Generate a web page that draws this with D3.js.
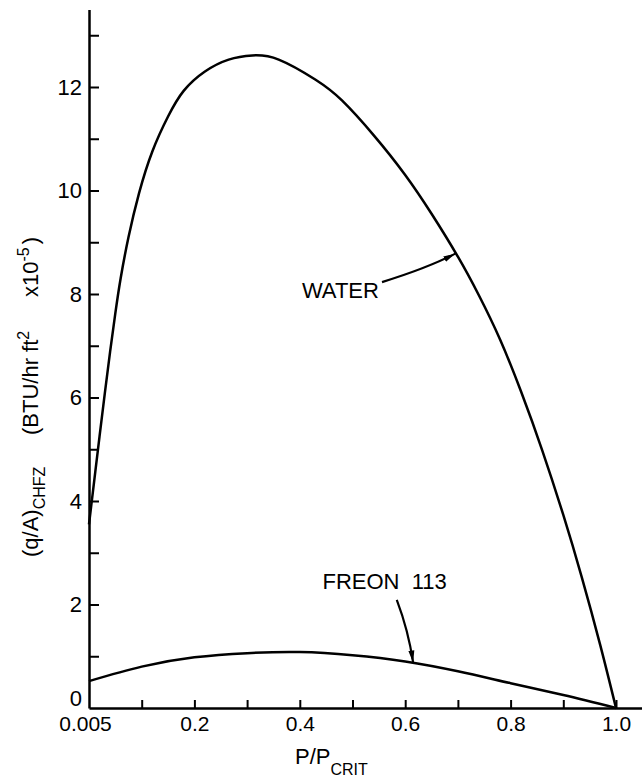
<!DOCTYPE html>
<html>
<head>
<meta charset="utf-8">
<script src="https://cdn.jsdelivr.net/npm/d3@7"></script>
<style>
body{margin:0;background:#fff;}
text{font-family:"Liberation Sans",Arial,sans-serif;fill:#000;}
</style>
</head>
<body>
<div id="chart"></div>
<script>
// values (P/Pcrit, q/A x10^-5)
var waterP=[0,0.01,0.02,0.03,0.04,0.05,0.06,0.075,0.095,0.12,0.15,0.18,0.22,0.265,0.31,0.36,0.43,0.48,0.54,0.6,0.65,0.7,0.74,0.78,0.82,0.86,0.9,0.935,0.97,1.0];
var waterQ=[3.55,4.4,5.25,6.08,6.88,7.63,8.3,9.1,9.95,10.75,11.43,11.93,12.3,12.53,12.61,12.53,12.14,11.74,11.07,10.3,9.55,8.72,7.97,7.12,6.11,4.98,3.73,2.53,1.22,0];
var freonP=[0,0.1,0.2,0.3,0.4,0.5,0.6,0.7,0.8,0.9,1.0];
var freonQ=[0.52,0.8,0.98,1.06,1.08,1.02,0.9,0.71,0.48,0.25,0.0];

var xTickValues=[0,0.1,0.2,0.3,0.4,0.5,0.6,0.7,0.8,0.9,1.0];
var xTickText=["0.005","","0.2","","0.4","","0.6","","0.8","","1.0"];
var yTickValues=[0,1,2,3,4,5,6,7,8,9,10,11,12,13];
var yTickText=["0","","2","","4","","6","","8","","10","","12",""];

var w=642, h=777;
var svg=d3.select("#chart").append("svg").attr("width",w).attr("height",h);

//Scales
var xScale=d3.scaleLinear().domain([0,1.05]).range([89,89+1.05*527]);
var yScale=d3.scaleLinear().domain([0,13.5]).range([708,708-13.5*51.75]);

//x-axis
var xAxis=d3.axisBottom(xScale)
            .tickValues(xTickValues)
            .tickSizeInner(-8)
            .tickSizeOuter(0)
            .tickPadding(8)
            .tickFormat(function(d,i){return xTickText[i];});
var gx=svg.append("g").attr("transform","translate(0,"+yScale(0)+")").call(xAxis);
gx.select(".domain").attr("stroke","#000").attr("stroke-width",2.5);
gx.selectAll(".tick line").attr("stroke","#000").attr("stroke-width",2)
  .attr("display",function(d){return d===0?"none":null;});
gx.selectAll(".tick text").attr("font-size",21).attr("font-family","Liberation Sans")
  .attr("dx",function(d){return d===0?-4:0;});

//y-axis
var yAxis=d3.axisLeft(yScale)
            .tickValues(yTickValues)
            .tickSizeInner(-10)
            .tickSizeOuter(0)
            .tickPadding(7)
            .tickFormat(function(d,i){return yTickText[i];});
var gy=svg.append("g").attr("transform","translate("+xScale(0)+",0)").call(yAxis);
gy.select(".domain").attr("stroke","#000").attr("stroke-width",2.5);
gy.selectAll(".tick line").attr("stroke","#000").attr("stroke-width",2)
  .attr("display",function(d){return d===0?"none":null;});
gy.selectAll(".tick text").attr("font-size",22).attr("font-family","Liberation Sans")
  .attr("dy",function(d){return d===0?"-0.12em":"0.32em";});

//Axis titles
var yt=svg.append("text")
          .attr("transform","translate(38,557)rotate(-90)")
          .attr("text-anchor","start")
          .attr("font-size",22);
yt.append("tspan").attr("x",0).text("(q/A)");
yt.append("tspan").attr("font-size",16).attr("dy",7).text("CHFZ");
yt.append("tspan").attr("x",122).attr("dy",-7).text("(BTU/hr ft");
yt.append("tspan").attr("font-size",16).attr("dy",-9).text("2");
yt.append("tspan").attr("x",260).attr("dy",9).text("x10");
yt.append("tspan").attr("font-size",16).attr("dy",-9).text("-5");
yt.append("tspan").attr("dx",3).attr("dy",9).text(")");

var xt=svg.append("text").attr("x",295).attr("y",764).attr("font-size",22);
xt.append("tspan").text("P/P");
xt.append("tspan").attr("font-size",16).attr("dy",11).text("CRIT");

//Curves
var line=d3.line()
           .x(function(d){return xScale(d[0]);})
           .y(function(d){return yScale(d[1]);})
           .curve(d3.curveNatural);
var water=waterP.map(function(p,i){return [p,waterQ[i]];});
var freon=freonP.map(function(p,i){return [p,freonQ[i]];});
svg.append("path").datum(water).attr("d",line)
   .attr("fill","none").attr("stroke","#000").attr("stroke-width",2.5);
svg.append("path").datum(freon).attr("d",line)
   .attr("fill","none").attr("stroke","#000").attr("stroke-width",2.5);

//Annotation arrows
svg.append("defs").append("marker")
   .attr("id","arrow")
   .attr("viewBox","0 0 12 8")
   .attr("refX",12).attr("refY",4)
   .attr("markerWidth",12).attr("markerHeight",8)
   .attr("markerUnits","userSpaceOnUse")
   .attr("orient","auto")
   .append("path").attr("d","M0,1L12,4L0,7Z").attr("fill","#000");

function leader(p0,c,p1){
    var p=d3.path();
    p.moveTo(xScale(p0[0]),yScale(p0[1]));
    p.quadraticCurveTo(xScale(c[0]),yScale(c[1]),xScale(p1[0]),yScale(p1[1]));
    return p.toString();
}
svg.append("path").attr("d",leader([0.556,8.23],[0.642,8.5],[0.695,8.78]))
   .attr("fill","none").attr("stroke","#000").attr("stroke-width",2.2).attr("marker-end","url(#arrow)");
svg.append("path").attr("d",leader([0.584,2.09],[0.606,1.5],[0.615,0.88]))
   .attr("fill","none").attr("stroke","#000").attr("stroke-width",2.2).attr("marker-end","url(#arrow)");

svg.append("text").attr("x",xScale(0.404)).attr("y",yScale(7.92))
   .attr("font-size",22).text("WATER");
svg.append("text").attr("x",xScale(0.443)).attr("y",yScale(2.30))
   .attr("font-size",22).attr("xml:space","preserve").text("FREON  113");
</script>
</body>
</html>
